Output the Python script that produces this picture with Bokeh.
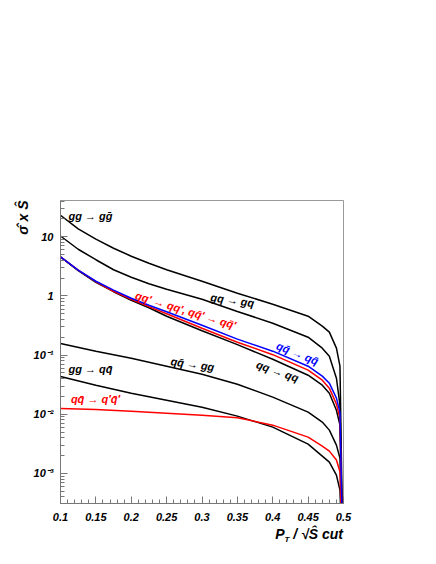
import math
from bokeh.plotting import figure
from bokeh.models import Range1d, FixedTicker, ColumnDataSource, Title, Div
from bokeh.layouts import column
from bokeh.core.properties import value
from bokeh.embed import file_html
from bokeh.resources import INLINE

# pT / sqrt(s-hat) cut values (dense grid for the steep curves)
x_fine = [0.10, 0.125, 0.15, 0.175, 0.20, 0.225, 0.25, 0.30, 0.35, 0.40, 0.45, 0.47, 0.48, 0.49, 0.495, 0.50]
# grid for the flatter curves
x_cut = [0.10, 0.15, 0.20, 0.25, 0.30, 0.35, 0.40, 0.45, 0.47, 0.48, 0.49, 0.495, 0.50]

# sigma-hat x s-hat for each subprocess
gg_gg = [23.1, 13.6, 9.1, 6.40, 4.69, 3.56, 2.77, 1.77, 1.11, 0.724, 0.454, 0.308, 0.244, 0.131, 0.065, 1e-5]
gq_gq = [10.3, 6.15, 4.09, 2.77, 2.07, 1.61, 1.30, 0.880, 0.547, 0.346, 0.2006, 0.1308, 0.0958, 0.0407, 0.01426, 1e-5]
qqbar_qqbar = [4.56, 2.72, 1.77, 1.25, 0.914, 0.697, 0.541, 0.32, 0.186, 0.1164, 0.0649, 0.0441, 0.0335, 0.0187, 0.01084, 1e-5]
qqp_qqp = [4.56, 2.72, 1.738, 1.20, 0.880, 0.658, 0.5005, 0.284, 0.165, 0.1016, 0.0556, 0.0377, 0.0276, 0.0148, 0.0086, 1e-5]
qq_qq = [4.56, 2.67, 1.70, 1.178, 0.846, 0.632, 0.454, 0.258, 0.150, 0.0852, 0.0457, 0.0310, 0.0227, 0.0117, 0.00654, 1e-5]
qqbar_gg = [0.157, 0.1164, 0.0887, 0.0649, 0.0476, 0.0322, 0.01945, 0.01086, 0.00736, 0.00539, 0.00301, 0.00181, 1e-5]
gg_qqbar = [0.0435, 0.0310, 0.0227, 0.0173, 0.01318, 0.00929, 0.00605, 0.00313, 0.00196, 0.00155, 0.000936, 0.000522, 1e-5]
qqbar_qpqpbar = [0.01253, 0.01197, 0.01128, 0.01044, 0.00966, 0.00876, 0.00654, 0.0041, 0.00289, 0.00238, 0.00168, 0.00107, 1e-5]

# tick values and labels
x_ticks = [0.1, 0.15, 0.2, 0.25, 0.3, 0.35, 0.4, 0.45, 0.5]
x_tick_labels = ["0.1", "0.15", "0.2", "0.25", "0.3", "0.35", "0.4", "0.45", "0.5"]
y_ticks = [0.001, 0.01, 0.1, 1.0, 10.0]
y_tick_labels = ["10\u207b\u00b3", "10\u207b\u00b2", "10\u207b\u00b9", "1", "10"]

# curve labels
label_text = ["gg \u2192 g\u1e21", "gq \u2192 gq", "qq\u2032 \u2192 qq\u2032, qq\u0304\u2032 \u2192 qq\u0304\u2032",
              "qq\u0304 \u2192 qq\u0304", "qq \u2192 qq", "qq\u0304 \u2192 gg", "gg \u2192 qq\u0304",
              "qq\u0304 \u2192 q\u2032q\u0304\u2032"]
label_x = [0.1424, 0.343, 0.277, 0.435, 0.4067, 0.2866, 0.1424, 0.1495]
label_y = [22.2, 0.85, 0.573, 0.107, 0.0534, 0.0704, 0.0575, 0.0178]
label_angle_deg = [0, -8, -17, -22, -19, -8, 0, 0]
label_color = ["black", "black", "red", "blue", "black", "black", "black", "red"]

y_title = "\u03c3\u0302 x \u015c"
x_title_main, x_title_sub, x_title_rest = "P", "T", " / \u221a\u015c cut"

FONT = "Liberation Sans"
Y_MIN, Y_MAX = 3.1e-4, 41

p = figure(width=420, height=527,
           x_range=Range1d(0.1, 0.5), y_range=Range1d(Y_MIN, Y_MAX),
           y_axis_type="log", output_backend="svg", toolbar_location=None,
           min_border_left=60, min_border_right=77, min_border_top=200,
           min_border_bottom=24)
p.xgrid.visible = False
p.ygrid.visible = False
p.outline_line_color = "#999999"
p.background_fill_color = "white"
p.border_fill_color = "white"

x_minor = [round(0.1 + 0.01 * i, 2) for i in range(41)]
y_minor = [m * 10.0 ** e for e in range(-4, 2) for m in range(2, 10)]
p.xaxis.ticker = FixedTicker(ticks=x_ticks, minor_ticks=x_minor)
p.yaxis.ticker = FixedTicker(ticks=y_ticks, minor_ticks=y_minor)
p.xaxis.major_label_overrides = dict(zip(x_ticks, x_tick_labels))
p.yaxis.major_label_overrides = dict(zip(y_ticks, y_tick_labels))

for ax in (p.xaxis[0], p.yaxis[0]):
    ax.axis_line_color = "#777777"
    ax.major_tick_line_color = "#777777"
    ax.minor_tick_line_color = "#777777"
    ax.major_tick_in = 7
    ax.major_tick_out = 0
    ax.minor_tick_in = 4
    ax.minor_tick_out = 0
    ax.major_label_text_font = FONT
    ax.major_label_text_font_style = "bold italic"
    ax.major_label_text_font_size = "11px"
    ax.major_label_text_color = "black"
p.xaxis.major_label_standoff = 9
p.yaxis.major_label_standoff = 7

# curves: black first, then red, then blue on top
for ys in (gg_gg, gq_gq, qq_qq):
    p.line(x_fine, ys, line_color="black", line_width=1.5)
for ys in (qqbar_gg, gg_qqbar):
    p.line(x_cut, ys, line_color="black", line_width=1.5)
p.line(x_fine, qqp_qqp, line_color="red", line_width=1.5)
p.line(x_cut, qqbar_qpqpbar, line_color="red", line_width=1.5)
p.line(x_fine, qqbar_qqbar, line_color="blue", line_width=1.5)

src = ColumnDataSource(dict(x=label_x, y=label_y, text=label_text,
                            angle=[math.radians(a) for a in label_angle_deg],
                            color=label_color))
p.text(x="x", y="y", text="text", angle="angle", text_color="color", source=src,
       text_font=value(FONT), text_font_style="bold italic", text_font_size="11px",
       text_align="center", text_baseline="middle")

# y axis title: rotated, at the top end of the axis
p.add_layout(Title(text=y_title, align="right", text_font=FONT,
                   text_font_style="bold italic", text_font_size="14px",
                   text_color="black", standoff=0), "left")

# x axis title below the plot, right-aligned with the frame
x_title_html = (
    '<div style="width:343px;text-align:right;font-family:\'Liberation Sans\';'
    'font-weight:bold;font-style:italic;font-size:14px;line-height:14px;color:black">'
    + x_title_main
    + '<span style="font-size:8px;position:relative;top:3px">' + x_title_sub + '</span>'
    + x_title_rest.replace(" ", "&nbsp;", 1)
    + '</div>'
)
div = Div(text=x_title_html, width=420, height=30, margin=(0, 0, 0, 0))

layout = column(p, div, spacing=0)
open("out.html", "w").write(file_html(layout, INLINE))
